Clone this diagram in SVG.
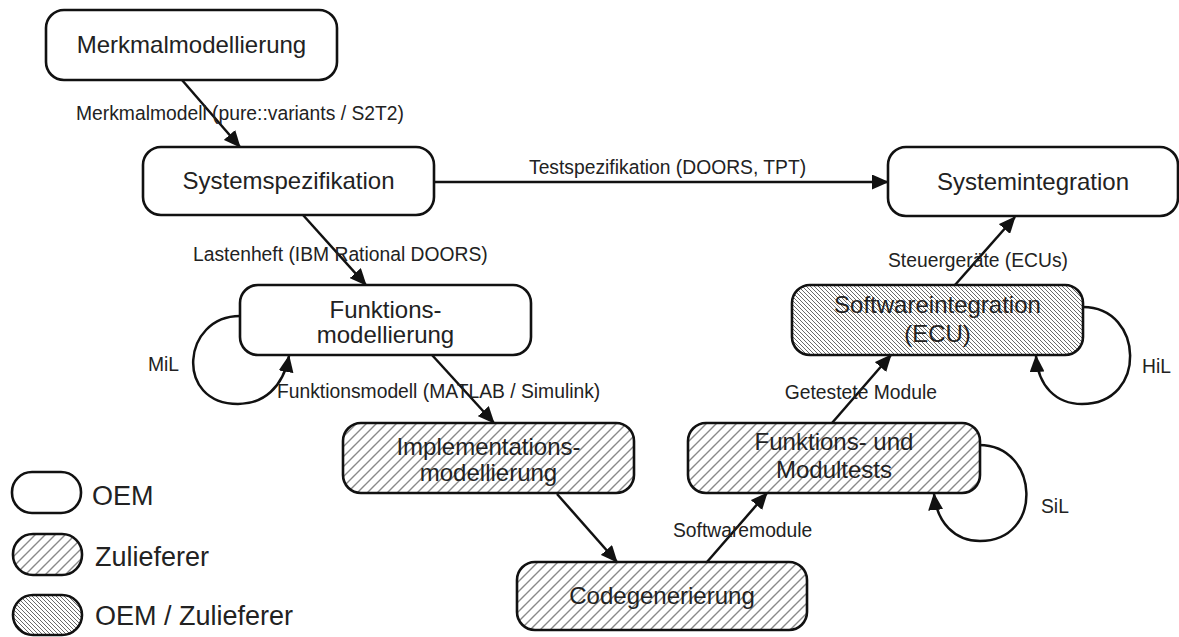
<svg xmlns="http://www.w3.org/2000/svg" width="1179" height="637" viewBox="0 0 1179 637">
<style>
.box{stroke:#111;stroke-width:2.6;}
.oem{fill:#fff;}
.zul{fill:url(#hatchZ);}
.both{fill:url(#hatchB);}
.nt{font-family:"Liberation Sans",Arial,sans-serif;font-size:24px;fill:#222;text-anchor:middle;}
.lbl{font-family:"Liberation Sans",Arial,sans-serif;font-size:19.3px;fill:#222;}
.leg{font-family:"Liberation Sans",Arial,sans-serif;font-size:27px;fill:#222;}
.edge{fill:none;stroke:#111;stroke-width:2.5;marker-end:url(#ah);}
</style>
<defs>
<marker id="ah" markerUnits="userSpaceOnUse" markerWidth="17" markerHeight="15" viewBox="0 0 17 15" refX="16" refY="7.5" orient="auto">
<path d="M0,0 L17,7.5 L0,15 z" fill="#111"/>
</marker>
<pattern id="hatchZ" patternUnits="userSpaceOnUse" width="10" height="10">
<rect width="10" height="10" fill="#fff"/>
<path d="M0,10 L10,0 M-2,2 L2,-2 M8,12 L12,8" stroke="#8a8a8a" stroke-width="1.4"/>
</pattern>
<pattern id="hatchB" patternUnits="userSpaceOnUse" width="4" height="4">
<rect width="4" height="4" fill="#fff"/>
<path d="M0,0 L4,4 M-1,3 L1,5 M3,-1 L5,1" stroke="#6a6a6a" stroke-width="1"/>
</pattern>
</defs>

<g id="connectors">
<path class="edge" d="M182,80 L240,147"/>
<path class="edge" d="M434,182 L888,182"/>
<path class="edge" d="M303,215 L366,285"/>
<path class="edge" d="M432,355 L494,423"/>
<path class="edge" d="M557,494 L617,562"/>
<path class="edge" d="M707,562 L767,493"/>
<path class="edge" d="M832,423 L891,355"/>
<path class="edge" d="M955,285 L1015,217"/>
<path class="edge" d="M240,316 C182,316 174,404 238,404 C263,404 283,388 289,356"/>
<path class="edge" d="M1083,307 C1144,307 1148,404 1082,404 C1056,404 1038,386 1036,356"/>
<path class="edge" d="M979,445 C1040,445 1044,541 980,541 C955,541 937,523 934,494"/>
</g>

<g id="labels">
<text class="lbl" x="76" y="120">Merkmalmodell (pure::variants / S2T2)</text>
<text class="lbl" x="529" y="174">Testspezifikation (DOORS, TPT)</text>
<text class="lbl" x="193" y="261">Lastenheft (IBM Rational DOORS)</text>
<text class="lbl" x="277" y="398">Funktionsmodell (MATLAB / Simulink)</text>
<text class="lbl" x="148" y="371">MiL</text>
<text class="lbl" x="888" y="267">Steuergeräte (ECUs)</text>
<text class="lbl" x="937" y="399" text-anchor="end">Getestete Module</text>
<text class="lbl" x="673" y="537">Softwaremodule</text>
<text class="lbl" x="1142" y="373">HiL</text>
<text class="lbl" x="1041" y="513">SiL</text>
</g>

<g id="n-merkmal">
<rect class="box oem" x="46" y="10" width="291" height="70" rx="18"/>
<text class="nt" x="191.5" y="53">Merkmalmodellierung</text>
</g>
<g id="n-systemspez">
<rect class="box oem" x="143" y="147" width="291" height="68" rx="18"/>
<text class="nt" x="288.5" y="189">Systemspezifikation</text>
</g>
<g id="n-systemint">
<rect class="box oem" x="888" y="147" width="290" height="69" rx="18"/>
<text class="nt" x="1033" y="190">Systemintegration</text>
</g>
<g id="n-funktmod">
<rect class="box oem" x="240" y="285" width="291" height="70" rx="18"/>
<text class="nt" x="385.5" y="318">Funktions-</text>
<text class="nt" x="385.5" y="343">modellierung</text>
</g>
<g id="n-implmod">
<rect class="box zul" x="343" y="423" width="291" height="70" rx="18"/>
<text class="nt" x="488.5" y="455">Implementations-</text>
<text class="nt" x="488.5" y="481">modellierung</text>
</g>
<g id="n-codegen">
<rect class="box zul" x="517" y="562" width="290" height="68" rx="18"/>
<text class="nt" x="662" y="604">Codegenerierung</text>
</g>
<g id="n-modultests">
<rect class="box zul" x="688" y="423" width="292" height="70" rx="18"/>
<text class="nt" x="834" y="450">Funktions- und</text>
<text class="nt" x="834" y="478">Modultests</text>
</g>
<g id="n-swint">
<rect class="box both" x="792" y="285" width="291" height="70" rx="18"/>
<text class="nt" x="937.5" y="313">Softwareintegration</text>
<text class="nt" x="937.5" y="342">(ECU)</text>
</g>

<g id="legend">
<rect class="box oem" x="12" y="472" width="69" height="41" rx="20"/>
<text class="leg" x="92" y="505">OEM</text>
<rect class="box zul" x="13" y="534" width="69" height="41" rx="20"/>
<text class="leg" x="95" y="566">Zulieferer</text>
<rect class="box both" x="13" y="595" width="69" height="40" rx="20"/>
<text class="leg" x="95" y="625">OEM / Zulieferer</text>
</g>
</svg>
